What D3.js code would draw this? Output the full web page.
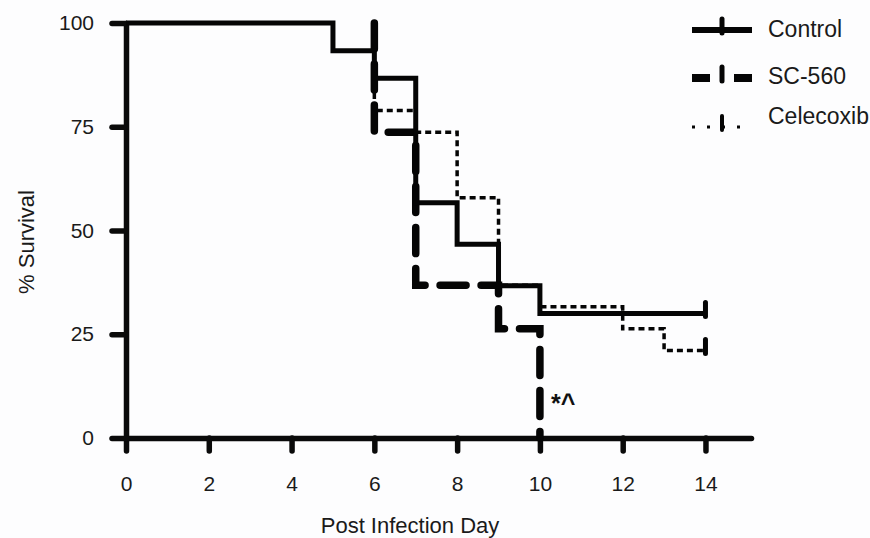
<!DOCTYPE html>
<meta charset="utf-8">
<script src="https://d3js.org/d3.v7.min.js"></script>
<head>
  <style>
  body {
    margin: 0;
    background-color: #fdfdfe;
    font-family: "Liberation Sans", Arial, Helvetica, sans-serif;
  }
  .axis path, .axis line {
    stroke: #0a0a0a;
    stroke-width: 5.5px;
    stroke-linecap: round;
  }
  .axis text {
    font-size: 21px;
    fill: #1a1a1a;
    font-family: "Liberation Sans", Arial, sans-serif;
  }
  </style>
</head>
<html><body>
<div id="viz"></div>
<script>

// Kaplan-Meier steps (day, % survival)
const controlDays = [0, 5, 6, 7, 8, 9, 10, 14];
const controlSurv = [100, 93.3, 86.7, 56.7, 46.7, 36.7, 30, 30];

const scDays = [0, 6, 7, 9, 10];
const scSurv = [100, 73.7, 36.8, 26.3, 0];

const celeDays = [0, 6, 7, 8, 9, 10, 12, 13, 14];
const celeSurv = [100, 78.9, 73.7, 57.9, 36.8, 31.6, 26.3, 21.1, 21.1];

// censored marks
const controlCensor = [14];
const celeCensor = [14];

const xTicks = [0, 2, 4, 6, 8, 10, 12, 14];
const yTicks = [0, 25, 50, 75, 100];

const groups = ["Control", "SC-560", "Celecoxib"];

const width = 870, height = 538;

const svg = d3.select("#viz")
  .append("svg")
    .attr("width", width)
    .attr("height", height);

const x = d3.scaleLinear()
  .domain([0, 15.1])
  .range([126, 751]);

const y = d3.scaleLinear()
  .domain([0, 100])
  .range([438, 23]);

svg.append("g")
  .attr("class", "axis")
  .attr("transform", `translate(0, ${y(0)})`)
  .call(d3.axisBottom(x).tickValues(xTicks).tickSize(13).tickSizeOuter(0).tickPadding(25));

svg.append("g")
  .attr("class", "axis")
  .attr("transform", `translate(${x(0)}, 0)`)
  .call(d3.axisLeft(y).tickValues(yTicks).tickSize(14).tickSizeOuter(0).tickPadding(18));

svg.selectAll(".axis .domain").attr("stroke-linecap", "square");

// axis titles
svg.append("text")
  .attr("x", 410)
  .attr("y", 533)
  .attr("text-anchor", "middle")
  .style("font-size", "22px")
  .style("fill", "#1a1a1a")
  .text("Post Infection Day");

svg.append("text")
  .attr("transform", "translate(34, 242) rotate(-90)")
  .attr("text-anchor", "middle")
  .style("font-size", "22px")
  .style("fill", "#1a1a1a")
  .text("% Survival");

const line = d3.line()
  .x(d => x(d[0]))
  .y(d => y(d[1]))
  .curve(d3.curveStepAfter);

const styles = {
  "Control": {w: 5, dash: null, cap: "butt"},
  "SC-560": {w: 7.5, dash: "26,15", cap: "round"},
  "Celecoxib": {w: 3.5, dash: "6,4", cap: "butt"}
};

function drawCurve(days, surv, key) {
  let pts = days.map((d, i) => [d, surv[i]]);
  // the shared 100% stretch is drawn only by the control line
  if (key !== "Control") {
    const first = pts.findIndex(p => p[1] < 100);
    pts = [[days[first], 100]].concat(pts.slice(first));
  }
  const s = styles[key];
  svg.append("path")
    .datum(pts)
    .attr("fill", "none")
    .attr("stroke", "#050505")
    .attr("stroke-width", s.w)
    .attr("stroke-dasharray", s.dash)
    .attr("stroke-linecap", s.cap)
    .attr("stroke-linejoin", "miter")
    .attr("d", line);
}

drawCurve(scDays, scSurv, "SC-560");
drawCurve(celeDays, celeSurv, "Celecoxib");
drawCurve(controlDays, controlSurv, "Control");

function drawCensor(cdays, days, surv) {
  cdays.forEach(function(c) {
    let idx = 0;
    days.forEach((d, i) => { if (d <= c) idx = i; });
    svg.append("line")
      .attr("x1", x(c)).attr("x2", x(c))
      .attr("y1", y(surv[idx]) - 11)
      .attr("y2", y(surv[idx]) + 3)
      .attr("stroke", "#050505")
      .attr("stroke-width", 5)
      .attr("stroke-linecap", "round");
  });
}
drawCensor(controlCensor, controlDays, controlSurv);
drawCensor(celeCensor, celeDays, celeSurv);

// significance mark next to SC-560
svg.append("text")
  .attr("x", x(10) + 11)
  .attr("y", y(0) - 26)
  .style("font-size", "25px")
  .style("font-weight", "bold")
  .style("fill", "#111")
  .text("*^");

// legend
const legY = [30, 78, 127];
const legTextY = [37, 84, 124];
const leg = svg.append("g");

groups.forEach(function(g, i) {
  const s = styles[g];
  let dash = s.dash, w = s.w;
  if (g === "Control") { w = 6; }
  if (g === "SC-560") { dash = "18,24"; w = 8; }
  if (g === "Celecoxib") { dash = "3,12"; w = 3; }
  leg.append("line")
    .attr("x1", 692).attr("x2", 752)
    .attr("y1", legY[i]).attr("y2", legY[i])
    .attr("stroke", "#050505")
    .attr("stroke-width", w)
    .attr("stroke-dasharray", dash);
  leg.append("line")
    .attr("x1", 722).attr("x2", 722)
    .attr("y1", legY[i] - 11).attr("y2", legY[i] + 3)
    .attr("stroke", "#050505")
    .attr("stroke-width", g === "Celecoxib" ? 4 : 5)
    .attr("stroke-linecap", "round");
  leg.append("text")
    .attr("x", 768)
    .attr("y", legTextY[i])
    .style("font-size", "23px")
    .style("fill", "#1a1a1a")
    .text(g);
});

</script>
</body></html>
